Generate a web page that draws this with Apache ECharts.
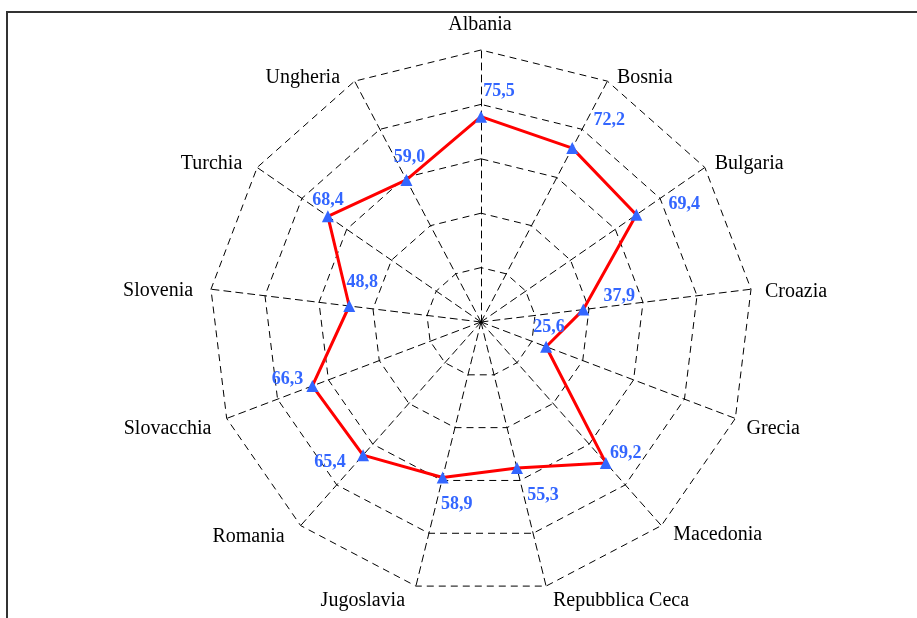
<!DOCTYPE html>
<html>
<head>
<meta charset="utf-8">
<script src="https://cdn.jsdelivr.net/npm/echarts@6/dist/echarts.min.js"></script>
<style>
  html, body { margin: 0; padding: 0; background: #fff; }
  #display { width: 917px; height: 618px; }
</style>
</head>
<body>
<div id="display"></div>
<script>
// paesi, in senso orario partendo dall'alto
var countries = ['Albania', 'Bosnia', 'Bulgaria', 'Croazia', 'Grecia', 'Macedonia', 'Repubblica Ceca',
                 'Jugoslavia', 'Romania', 'Slovacchia', 'Slovenia', 'Turchia', 'Ungheria'];
var values = [75.5, 72.2, 69.4, 37.9, 25.6, 69.2, 55.3, 58.9, 65.4, 66.3, 48.8, 68.4, 59.0];
var maxValue = 100;

// spostamento delle etichette rispetto al punto (solo stile)
var labelShift = [[18, -25], [37, -28], [48, -10], [36, -13], [3, -19], [20, -10], [26, 27],
                  [14, 27], [-33, 7], [-25, -7], [13, -24], [0, -16], [3, -23]];
// piccoli aggiustamenti dei nomi dei paesi [dx, dy]
var nameShift = [[-1, -3], [4, 7], [0, 3], [2, 4], [0, 6], [4, 0], [4, 3],
                 [-8, 3], [-8, 2], [-4, 6], [-6, 3], [-5, 3], [-9, 7]];

function fmt(v) { return v.toFixed(1).replace('.', ','); }

// echarts disegna in senso antiorario: riordino
var order = [0];
for (var i = countries.length - 1; i > 0; i--) order.push(i);

// stili rich per spostare ogni nome con il padding
var rich = {};
countries.forEach(function (c, k) {
    var dx = nameShift[k][0], dy = nameShift[k][1];
    var pad;
    if (k === 0) {
        // centrato, allineato in basso
        pad = [0, Math.max(0, -2 * dx), Math.max(0, -dy), Math.max(0, 2 * dx)];
    } else {
        pad = [Math.max(0, 2 * dy), Math.max(0, -dx), Math.max(0, -2 * dy), Math.max(0, dx)];
    }
    rich['n' + k] = { padding: pad };
});

var myDisplay = echarts.init(document.getElementById('display'));
var dash = [7, 5];

myDisplay.setOption({
    animation: false,
    backgroundColor: '#fff',
    graphic: [{
        type: 'rect',
        shape: { x: 7, y: 12, width: 1000, height: 1000 },
        style: { fill: 'none', stroke: '#333', lineWidth: 2 },
        silent: true
    }],
    radar: {
        center: [481, 322],
        radius: 272,
        startAngle: 90,
        splitNumber: 5,
        shape: 'polygon',
        nameGap: 12,
        indicator: order.map(function (i) { return { name: countries[i], max: maxValue, min: 0 }; }),
        axisName: {
            color: '#000',
            fontFamily: 'Liberation Serif',
            fontSize: 20,
            formatter: function (name) {
                return '{n' + countries.indexOf(name) + '|' + name + '}';
            },
            rich: rich
        },
        axisLine: { lineStyle: { color: '#000', width: 1, type: dash } },
        splitLine: { lineStyle: { color: '#000', width: 1, type: dash } },
        splitArea: { show: false },
        axisTick: { show: false },
        axisLabel: { show: false }
    },
    series: [{
        type: 'radar',
        symbol: 'triangle',
        symbolSize: 12,
        lineStyle: { color: '#ff0000', width: 3 },
        itemStyle: { color: '#3366ff' },
        label: {
            show: true,
            color: '#3366ff',
            fontFamily: 'Liberation Serif',
            fontWeight: 'bold',
            fontSize: 18,
            formatter: function (p) { return fmt(p.value); }
        },
        labelLayout: function (p) {
            var idx = values.map(fmt).indexOf(p.text);
            if (idx < 0) return {};
            var cx = p.rect.x + p.rect.width / 2;
            var cy = p.rect.y + p.rect.height / 2;
            return {
                x: cx + labelShift[idx][0],
                y: cy + labelShift[idx][1],
                align: 'center',
                verticalAlign: 'middle'
            };
        },
        data: [{ value: order.map(function (i) { return values[i]; }) }]
    }]
});

window.onresize = function () {
    myDisplay.resize();
};
</script>
</body>
</html>
